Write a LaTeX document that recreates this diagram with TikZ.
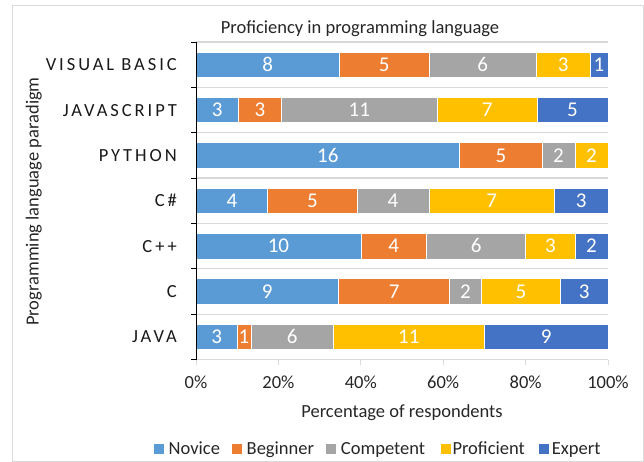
\documentclass[tikz,border=0pt]{standalone}
\usepackage{fontspec}
\setmainfont{Carlito}
\definecolor{novice}{HTML}{5B9BD5}
\definecolor{beginner}{HTML}{ED7D31}
\definecolor{competent}{HTML}{A5A5A5}
\definecolor{proficient}{HTML}{FFC000}
\definecolor{expert}{HTML}{4472C4}
\definecolor{gridgray}{HTML}{D9D9D9}
\colorlet{c1}{novice}
\colorlet{c2}{beginner}
\colorlet{c3}{competent}
\colorlet{c4}{proficient}
\colorlet{c5}{expert}

% plot geometry (in pt, y grows downwards)
\def\xzero{196}
\def\xwidth{412}
\def\ytop{42}
\def\rowh{45.36}
\def\barhalf{12.7}

\tikzset{
  lbl/.style={font=\fontsize{18.5}{21}\selectfont, inner sep=0pt, text=black!85},
  barlab/.style={font=\fontsize{21}{23}\selectfont, inner sep=0pt, text=white, anchor=base},
  catlab/.style={font=\fontsize{18.5}{21}\selectfont\addfontfeature{LetterSpace=16}, inner sep=0pt, anchor=base east, text=black!90},
  segment/.style={draw=white, line width=0.6pt},
  gridline/.style={draw=gridgray, line width=1.2pt},
  legsq/.style={minimum size=10pt, inner sep=0pt, anchor=north west},
}

% one stacked bar: #1 row index, #2 total, #3 counts
\newcommand\stackedbar[3]{%
  \pgfmathsetmacro\yc{\ytop+\rowh*(#1+0.5)}%
  \xdef\acc{0}%
  \foreach \v [count=\i] in {#3} {%
    \pgfmathsetmacro\xa{\xzero+\xwidth*\acc/#2}%
    \pgfmathsetmacro\xb{\xzero+\xwidth*(\acc+\v)/#2}%
    \fill[c\i, segment] (\xa,\yc-\barhalf) rectangle (\xb,\yc+\barhalf);
    \node[barlab] (seg-#1-\i) at ({(\xa+\xb)/2},\yc+6.8) {\v};
    \pgfmathsetmacro\newacc{\acc+\v}%
    \xdef\acc{\newacc}%
  }%
}

\begin{document}
\begin{tikzpicture}[x=1pt, y=-1pt]
  \useasboundingbox (0,0) rectangle (644,462);
  % chart frame
  \draw[gridgray, line width=1pt] (12,6) rectangle (643.5,461.5);

  % title
  \node[lbl, anchor=base] (title) at (360,33.3) {Proficiency in programming language};

  % horizontal gridlines at category boundaries
  \foreach \k in {0,...,7}
    \draw[gridline] (\xzero,{\ytop+\rowh*\k}) -- ({\xzero+\xwidth},{\ytop+\rowh*\k});

  % value axis ticks and labels
  \foreach \p [count=\j from 0] in {0\%,20\%,40\%,60\%,80\%,100\%} {
    \draw[gridgray, line width=1pt] ({\xzero+\xwidth*\j/5},359.5) -- ({\xzero+\xwidth*\j/5},365);
    \node[lbl, anchor=base] (tick-\j) at ({\xzero+\xwidth*\j/5},388) {\p};
  }

  % stacked bars
  \stackedbar{0}{23}{8,5,6,3,1}
  \stackedbar{1}{29}{3,3,11,7,5}
  \stackedbar{2}{25}{16,5,2,2}
  \stackedbar{3}{23}{4,5,4,7,3}
  \stackedbar{4}{25}{10,4,6,3,2}
  \stackedbar{5}{26}{9,7,2,5,3}
  \stackedbar{6}{30}{3,1,6,11,9}

  % category axis with ticks
  \draw[black, line width=0.8pt] (\xzero,\ytop) -- (\xzero,{\ytop+\rowh*7});
  \foreach \k in {0,...,7}
    \draw[black, line width=0.8pt] (\xzero,{\ytop+\rowh*\k}) -- (\xzero-5.5,{\ytop+\rowh*\k});

  % category labels
  \foreach \name [count=\r from 0] in {VISUAL BASIC,JAVASCRIPT,PYTHON,C\#,C++,C,JAVA}
    \node[catlab] (cat-\r) at (177,{\ytop+\rowh*(\r+0.5)+6}) {\name};

  % axis titles
  \node[lbl, anchor=base] (xtitle) at (402,417.7) {Percentage of respondents};
  \node[lbl, anchor=base, rotate=90] (ytitle) at (38.5,201.5) {Programming language paradigm};

  % legend
  \foreach \c/\t/\sx/\tx in {novice/Novice/154/168.5, beginner/Beginner/231.7/246.5,
                             competent/Competent/325.7/340.7, proficient/Proficient/441/452.3,
                             expert/Expert/538.3/551.7} {
    \node[legsq, fill=\c] (sq-\c) at (\sx,443.8) {};
    \node[lbl, anchor=base west] (leg-\c) at (\tx,454) {\t};
  }
\end{tikzpicture}
\end{document}
